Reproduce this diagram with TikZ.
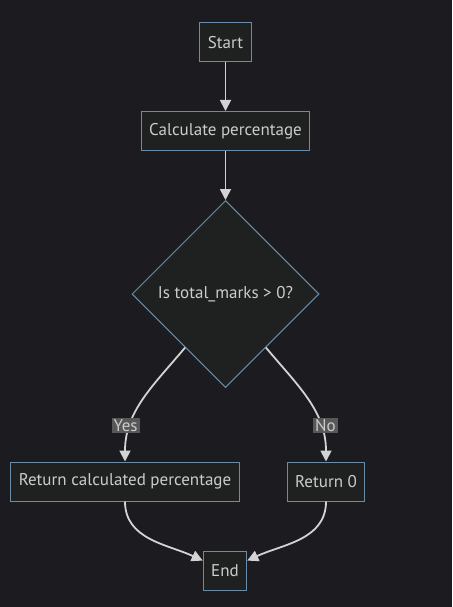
\documentclass[tikz,border=0pt]{standalone}
\usepackage{fontspec}
\setmainfont{PT Sans}
\usetikzlibrary{shapes.geometric,arrows.meta,calc}
\definecolor{bgcol}{HTML}{1C1C20}
\definecolor{nodefill}{HTML}{1F2020}
\definecolor{nodeline}{HTML}{6A8CAB}
\definecolor{txtcol}{HTML}{CCCCCC}
\definecolor{edgecol}{HTML}{D3D3D3}
\definecolor{lblfill}{HTML}{585858}
\tikzset{
  box/.style = {draw = nodeline, fill = nodefill, text = txtcol, line width = 1pt,
    minimum height = 39pt, inner xsep = 8pt, font = \fontsize{17}{20}\selectfont},
  decision/.style = {box, diamond, aspect = 1, minimum width = 187pt, minimum height = 187pt, inner sep = 0pt},
  edge/.style = {draw = edgecol, line width = 1.8pt, -{Triangle[length = 11pt, width = 11pt]}},
  lbl/.style = {fill = lblfill, text = txtcol, inner xsep = 2pt, inner ysep = 1pt,
    font = \fontsize{17}{20}\selectfont}
}
\begin{document}
\begin{tikzpicture}[x = 1pt, y = 1pt]
	\fill[bgcol] (0,0) rectangle (452,-607);
	\useasboundingbox (0,0) rectangle (452,-607);
	\node[box] (start) at (225.5,-42.5) {Start};
	\node[box] (calc) at (225.5,-131) {Calculate percentage};
	\node[decision] (check) at (225.5,-294) {Is total\_marks > 0?};
	\node[box] (retcalc) at (125,-481.5) {Return calculated percentage};
	\node[box] (retzero) at (326,-481.5) {Return 0};
	\node[box] (end) at (225,-571) {End};
	\draw[edge] (start) -- (calc);
	\draw[edge] (calc) -- (check);
	\draw[edge] ($(check.west)!0.57!(check.south)$) to[out = -130, in = 90]
		node[lbl, pos = 0.73, xshift = -5pt] {Yes} (retcalc);
	\draw[edge] ($(check.east)!0.57!(check.south)$) to[out = -50, in = 90]
		node[lbl, pos = 0.73, xshift = 5pt] {No} (retzero);
	\draw[edge] (retcalc) to[out = -90, in = 155] (end.155);
	\draw[edge] (retzero) to[out = -90, in = 25] (end.25);
\end{tikzpicture}
\end{document}
